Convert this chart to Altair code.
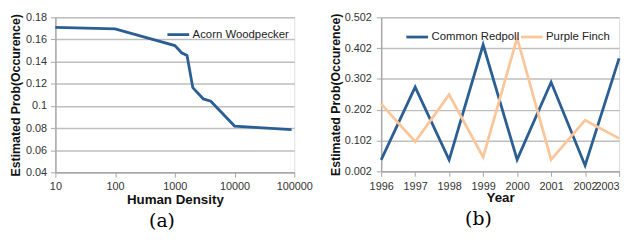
import altair as alt
import pandas as pd

# ---- data panel (a) ----
density = [10, 100, 1000, 1300, 1600, 2000, 3000, 4000, 10000, 90000]
acorn = [0.171, 0.1695, 0.1545, 0.148, 0.1455, 0.1165, 0.1063, 0.1042, 0.0818, 0.0785]
density_ticks = [10, 100, 1000, 10000, 100000]
prob_ticks_a = [0.04, 0.06, 0.08, 0.1, 0.12, 0.14, 0.16, 0.18]

# ---- data panel (b) ----
years = [1996, 1997, 1998, 1999, 2000, 2001, 2002, 2003]
redpoll = [0.039, 0.2755, 0.039, 0.413, 0.040, 0.2915, 0.021, 0.3685]
finch = [0.221, 0.098, 0.251, 0.048, 0.435, 0.040, 0.168, 0.109]
prob_ticks_b = [0.002, 0.102, 0.202, 0.302, 0.402, 0.502]

BLUE = "#2B5E92"
PEACH = "#FBC699"
GRID = "#BEBEBE"
AXIS = "#A8A8A8"
SANS = "Liberation Sans"

df_a = pd.DataFrame({"density": density, "prob": acorn, "series": "Acorn Woodpecker"})
df_b = pd.concat([
    pd.DataFrame({"year": years, "prob": redpoll, "series": "Common Redpoll"}),
    pd.DataFrame({"year": years, "prob": finch, "series": "Purple Finch"}),
])


def yaxis(vals, fmt_expr, title_pad, label_pad):
    return alt.Axis(values=vals, labelExpr=fmt_expr, grid=True, gridColor=GRID, gridWidth=1.5,
                    domainColor=AXIS, domainWidth=1.5, tickColor=AXIS, tickSize=5,
                    labelFont=SANS, labelFontSize=11, labelColor="#333333", labelPadding=label_pad,
                    title="Estimated Prob(Occurence)", titleFont=SANS, titleFontSize=12.5,
                    titleFontWeight="bold", titleColor="#111111", titlePadding=title_pad)


def xaxis(vals, title, label_pad, title_pad, align="center"):
    return alt.Axis(values=vals, format="d", grid=False, domainColor=AXIS, domainWidth=1.5,
                    tickColor=AXIS, tickSize=5, labelFont=SANS, labelFontSize=11,
                    labelColor="#333333", labelPadding=label_pad, labelAngle=0,
                    labelOverlap=False, labelFlush=False, labelAlign=align,
                    title=title, titleFont=SANS, titleFontSize=13.5, titleFontWeight="bold",
                    titleColor="#111111", titlePadding=title_pad)


def legend(x, y, direction, col_pad=0):
    return alt.Legend(orient="none", legendX=x, legendY=y, direction=direction, title=None,
                      symbolType="stroke", symbolSize=484, symbolStrokeWidth=2.8,
                      labelFont=SANS, labelFontSize=11.5, labelColor="#222222", labelOffset=2,
                      columnPadding=col_pad, padding=0)


panel_a = alt.Chart(df_a).mark_line(strokeWidth=2.8).encode(
    x=alt.X("density:Q", scale=alt.Scale(type="log", domain=[10, 100000], nice=False),
            axis=xaxis(density_ticks, "Human Density", 3, 2)),
    y=alt.Y("prob:Q", scale=alt.Scale(domain=[0.04, 0.18], nice=False, zero=False),
            axis=yaxis(prob_ticks_a, "format(datum.value, '~g')", 3, 4)),
    color=alt.Color("series:N", scale=alt.Scale(domain=["Acorn Woodpecker"], range=[BLUE]),
                    legend=legend(112, 5, "vertical")),
).properties(
    width=242, height=157,
    title=alt.TitleParams("(a)", orient="bottom", font="DejaVu Serif", fontSize=19,
                          fontWeight="normal", color="#000000", offset=6, dx=-13),
)

last_year_right = {"condition": {"test": "datum.value == 2003", "value": "right"}, "value": "center"}

panel_b = alt.Chart(df_b).mark_line(strokeWidth=2.8).encode(
    x=alt.X("year:Q", scale=alt.Scale(domain=[1996, 2003], nice=False, zero=False),
            axis=xaxis(years, "Year", 4, 0, last_year_right)),
    y=alt.Y("prob:Q", scale=alt.Scale(domain=[0.002, 0.502], nice=False, zero=False),
            axis=yaxis(prob_ticks_b, "format(datum.value, '.3f')", 2, 5)),
    color=alt.Color("series:N",
                    scale=alt.Scale(domain=["Common Redpoll", "Purple Finch"], range=[BLUE, PEACH]),
                    legend=legend(24, 7, "horizontal", -12)),
).properties(
    width=241, height=156,
    title=alt.TitleParams("(b)", orient="bottom", font="DejaVu Serif", fontSize=19,
                          fontWeight="normal", color="#000000", offset=6, dx=-22),
)

chart = alt.hconcat(panel_a, panel_b, spacing=15).resolve_scale(color="independent").properties(
    padding={"left": 1, "top": 1, "right": 0, "bottom": 0},
).configure_view(stroke=None).configure(background="white")

chart.save("out.html", embed_options={"renderer": "svg", "actions": False})
